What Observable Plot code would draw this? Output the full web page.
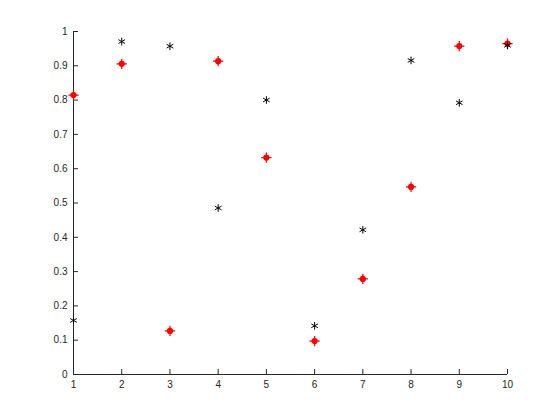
<!DOCTYPE html>
<html>
<head>
<meta charset="utf-8">
<script src="https://cdn.jsdelivr.net/npm/d3@7"></script>
<script src="https://cdn.jsdelivr.net/npm/@observablehq/plot@0.6"></script>
<style>
  html, body { margin: 0; padding: 0; background: #fff; }
  #chart svg { display: block; }
</style>
</head>
<body>
<div id="chart"></div>
<script>
const xValues = [1, 2, 3, 4, 5, 6, 7, 8, 9, 10];
const redSeries = [0.8147, 0.9058, 0.1270, 0.9134, 0.6324, 0.0975, 0.2785, 0.5469, 0.9575, 0.9649];
const blackSeries = [0.1576, 0.9706, 0.9572, 0.4854, 0.8003, 0.1419, 0.4218, 0.9157, 0.7922, 0.9595];
const xTicks = [1, 2, 3, 4, 5, 6, 7, 8, 9, 10];
const yTicks = [0, 0.1, 0.2, 0.3, 0.4, 0.5, 0.6, 0.7, 0.8, 0.9, 1];

const red = xValues.map((x, i) => ({x, y: redSeries[i]}));
const black = xValues.map((x, i) => ({x, y: blackSeries[i]}));

const axisColor = "#262626";
const chart = Plot.plot({
  width: 560,
  height: 420,
  marginLeft: 73,
  marginRight: 53,
  marginTop: 31,
  marginBottom: 46,
  style: {fontFamily: "Liberation Sans, Helvetica, Arial, sans-serif", fontSize: "10px", color: axisColor, background: "#fff"},
  x: {domain: [1, 10]},
  y: {domain: [0, 1]},
  marks: [
    Plot.axisX({ticks: xTicks, tickSize: -5, tickPadding: 11, tickFormat: d => String(d), label: null, stroke: axisColor, fill: axisColor}),
    Plot.axisY({ticks: yTicks, tickSize: -5, tickPadding: 11, tickFormat: d => String(+d.toFixed(1)), label: null, stroke: axisColor, fill: axisColor}),
    Plot.ruleX([1], {stroke: axisColor, strokeWidth: 1}),
    Plot.ruleY([0], {stroke: axisColor, strokeWidth: 1}),
    Plot.dot(red, {x: "x", y: "y", r: 3.1, fill: "red", stroke: "none"}),
    Plot.dot(red, {x: "x", y: "y", r: 3.4, symbol: "plus", stroke: "red", strokeWidth: 1.2}),
    Plot.dot(black, {x: "x", y: "y", r: 3.6, symbol: "asterisk", stroke: "black", strokeWidth: 1})
  ]
});
document.getElementById("chart").appendChild(chart);
</script>
</body>
</html>
